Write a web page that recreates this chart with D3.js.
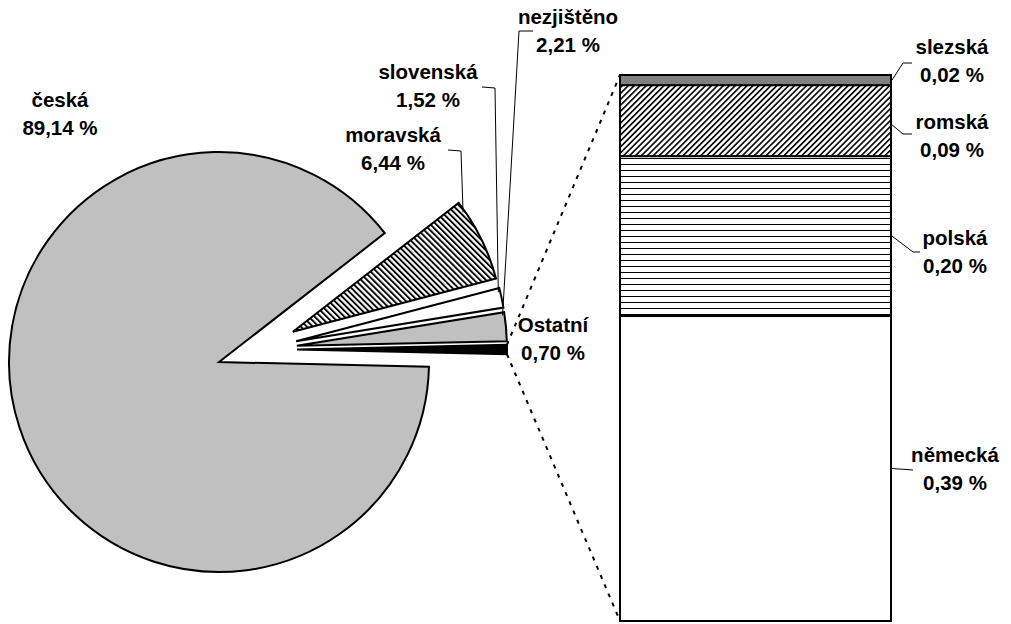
<!DOCTYPE html>
<html>
<head>
<meta charset="utf-8">
<script src="https://cdn.jsdelivr.net/npm/d3@7"></script>
<style>
  html, body { margin: 0; padding: 0; background: #fff; }
  svg { display: block; }
  text { font-family: "Liberation Sans", Arial, sans-serif; font-weight: bold; font-size: 20.5px; fill: #000; }
</style>
</head>
<body>
<svg id="chart" width="1011" height="624"></svg>
<script>
// ---- data ----
const pieNames  = ["česká", "moravská", "slovenská", "nezjištěno", "Ostatní"];
const pieValues = [89.14, 6.44, 1.52, 2.21, 0.70];
const pieLabels = ["89,14 %", "6,44 %", "1,52 %", "2,21 %", "0,70 %"];

const barNames  = ["německá", "polská", "romská", "slezská"];   // bottom to top
const barValues = [0.391, 0.205, 0.091, 0.013];
const barLabels = ["0,39 %", "0,20 %", "0,09 %", "0,02 %"];

// ---- layout ----
const svg = d3.select("#chart");
const cx = 257, cy = 349.5, R = 210, explode = 40;

const defs = svg.append("defs");
// moravská: "\" hatch
const p1 = defs.append("pattern").attr("id", "hatchBack").attr("patternUnits", "userSpaceOnUse")
  .attr("width", 4.2).attr("height", 4.2).attr("patternTransform", "rotate(-45)");
p1.append("rect").attr("width", 4.2).attr("height", 4.2).attr("fill", "#fff");
p1.append("rect").attr("width", 1.9).attr("height", 4.2).attr("fill", "#000");
// romská: "/" hatch
const p2 = defs.append("pattern").attr("id", "hatchFwd").attr("patternUnits", "userSpaceOnUse")
  .attr("width", 4.2).attr("height", 4.2).attr("patternTransform", "rotate(45)");
p2.append("rect").attr("width", 4.2).attr("height", 4.2).attr("fill", "#fff");
p2.append("rect").attr("width", 1.6).attr("height", 4.2).attr("fill", "#000");
// polská: horizontal lines
const p3 = defs.append("pattern").attr("id", "hlines").attr("patternUnits", "userSpaceOnUse")
  .attr("width", 8).attr("height", 6);
p3.append("rect").attr("width", 8).attr("height", 6).attr("fill", "#fff");
p3.append("rect").attr("y", 2).attr("width", 8).attr("height", 1).attr("fill", "#000");

const pieFills = ["#c0c0c0", "url(#hatchBack)", "#ffffff", "#c0c0c0", "#000000"];
const barFills = ["#ffffff", "url(#hlines)", "url(#hatchFwd)", "#808080"];

// ---- pie ----
const total = d3.sum(pieValues);
const aOther = pieValues[pieValues.length - 1] / total * 2 * Math.PI;
const start = Math.PI / 2 + aOther / 2;
const pie = d3.pie().sort(null).value(d => d).startAngle(start).endAngle(start + 2 * Math.PI);
const arcs = pie(pieValues);
const arc = d3.arc().innerRadius(0).outerRadius(R);

function dir(a) { return [Math.sin(a), -Math.cos(a)]; }
function centerOf(d) {
  const m = (d.startAngle + d.endAngle) / 2, v = dir(m);
  return [cx + explode * v[0], cy + explode * v[1]];
}
function onArc(d, a, r) {
  const c = centerOf(d), v = dir(a);
  return [c[0] + (r || R) * v[0], c[1] + (r || R) * v[1]];
}

const gPie = svg.append("g");
gPie.selectAll("path").data(arcs).enter().append("path")
  .attr("transform", d => `translate(${centerOf(d)})`)
  .attr("d", arc)
  .attr("fill", (d, i) => pieFills[i])
  .attr("stroke", "#000").attr("stroke-width", 2).attr("stroke-linejoin", "miter");

// ---- bar ----
const x0 = 620, x1 = 891;
const barTotal = d3.sum(barValues);
const y = d3.scaleLinear().domain([0, barTotal]).range([621, 75]);
const stacked = [];
let acc = 0;
barValues.forEach((v, i) => { stacked.push({ i, y0: acc, y1: acc + v }); acc += v; });

const gBar = svg.append("g");
gBar.selectAll("rect").data(stacked).enter().append("rect")
  .attr("x", x0).attr("width", x1 - x0)
  .attr("y", d => y(d.y1)).attr("height", d => y(d.y0) - y(d.y1))
  .attr("fill", d => barFills[d.i])
  .attr("stroke", "#000").attr("stroke-width", 2);

// ---- connector (dashed) lines ----
const other = arcs[arcs.length - 1];
const pTop = onArc(other, other.startAngle);
const pBot = onArc(other, other.endAngle);
svg.append("line").attr("x1", pTop[0]).attr("y1", pTop[1]).attr("x2", x0).attr("y2", y(barTotal))
  .attr("stroke", "#000").attr("stroke-width", 2).attr("stroke-dasharray", "4,6");
svg.append("line").attr("x1", pBot[0]).attr("y1", pBot[1]).attr("x2", x0).attr("y2", y(0))
  .attr("stroke", "#000").attr("stroke-width", 2).attr("stroke-dasharray", "4,6");

// ---- labels ----
function label(name, pct, x, yb) {
  const t = svg.append("text").attr("text-anchor", "middle");
  t.append("tspan").attr("x", x).attr("y", yb).text(name);
  t.append("tspan").attr("x", x).attr("y", yb + 28).text(pct);
}
const pieLabelPos = [[60, 107], [393, 142], [428, 79], [568, 24], [553, 332]];
pieNames.forEach((n, i) => label(n, pieLabels[i], pieLabelPos[i][0], pieLabelPos[i][1]));
const barLabelPos = [[955, 462], [955, 245], [952, 129], [952, 54]];
barNames.forEach((n, i) => label(n, barLabels[i], barLabelPos[i][0], barLabelPos[i][1]));

// ---- leader lines ----
const line = d3.line();
function leader(pts) {
  svg.append("path").attr("d", line(pts)).attr("fill", "none").attr("stroke", "#000").attr("stroke-width", 1);
}
const mor = arcs[1], slo = arcs[2], nez = arcs[3];
leader([[448, 150], [461, 151], onArc(mor, mor.startAngle + 0.12 * (mor.endAngle - mor.startAngle), R - 2)]);
leader([[482, 87], [495, 88], onArc(slo, slo.startAngle + 0.2 * (slo.endAngle - slo.startAngle), R - 2)]);
leader([[533, 31], [519, 31], onArc(nez, nez.startAngle + 0.1 * (nez.endAngle - nez.startAngle), R - 2)]);

const ym = d => y((stacked[d].y0 + stacked[d].y1) / 2);
leader([[912, 63], [903, 63], [x1 + 1, ym(3)]]);
leader([[x1 + 1, y(stacked[2].y0 + 0.44 * barValues[2])], [903, 134], [912, 134]]);
leader([[x1 + 1, y(stacked[1].y0 + 0.5 * barValues[1])], [913, 252], [920, 252]]);
leader([[x1 + 1, y(stacked[0].y0 + 0.5 * barValues[0])], [913, 470]]);
</script>
</body>
</html>
